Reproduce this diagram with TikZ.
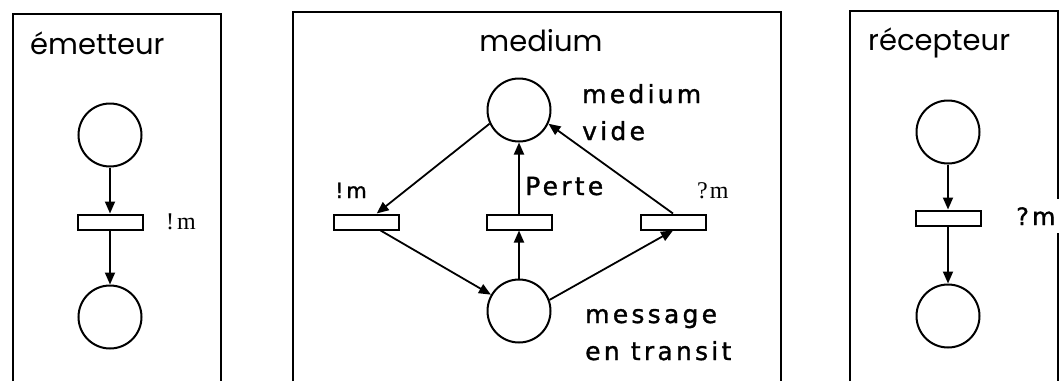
\documentclass[tikz,border=0pt]{standalone}
\usepackage{fontspec}
\usetikzlibrary{arrows.meta}
\newfontfamily\titlefont{Poppins}
\newfontfamily\lblfont[LetterSpace=13,FakeBold=1.2]{DejaVu Sans}
\newfontfamily\seriffont{Liberation Serif}
\begin{document}
\begin{tikzpicture}[x=1pt,y=-1pt,
  place/.style={circle, draw, line width=2pt, minimum size=63pt, inner sep=0pt},
  trans/.style={rectangle, draw, line width=2pt, minimum width=65pt, minimum height=15pt, inner sep=0pt},
  arc/.style={line width=1.8pt, -{Triangle[length=12pt,width=10pt]}},
  frame/.style={line width=2.4pt},
  title/.style={font=\titlefont\fontsize{29}{34}\selectfont, inner sep=0pt},
  lbl/.style={font=\lblfont\fontsize{25}{37}\selectfont, inner sep=0pt, align=left},
  slbl/.style={font=\seriffont\fontsize{24}{26}\selectfont, inner sep=0pt}]
\useasboundingbox (0,0) rectangle (1061,381);
% frames
\draw[frame] (13,381) -- (13,14) -- (221,14) -- (221,381);
\draw[frame] (293,381) -- (293,12) -- (781,12) -- (781,381);
\draw[frame] (850,381) -- (850,11) -- (1058,11) -- (1058,381);
% titles
\node[title, anchor=base west] (t1) at (30,54) {émetteur};
\node[title, anchor=base] (t2) at (541,51) {medium};
\node[title, anchor=base west] (t3) at (868,50) {récepteur};
% emetteur
\node[place] (ep1) at (110,135) {};
\node[trans] (et) at (110,222) {};
\node[place] (ep2) at (110,317) {};
\draw[arc] (ep1) -- (et);
\draw[arc] (et) -- (ep2);
\node[slbl, anchor=base west] (etl) at (166,229) {!\kern3pt m};
% medium
\node[place] (mv) at (519,110) {};
\node[trans] (lt) at (366,222) {};
\node[trans] (pt) at (519,222) {};
\node[trans] (rt) at (673,222) {};
\node[place] (mt) at (519,311) {};
\draw[arc] (mv.205) -- (lt);
\draw[arc] (lt) -- (mt);
\draw[arc] (mt) -- (pt);
\draw[arc] (pt) -- (mv);
\draw[arc] (mt.20) -- (rt.south);
\draw[arc] (rt.north) -- (mv.-25);
\node[lbl, anchor=base west, font=\lblfont\fontsize{21}{22}\selectfont] (ltl) at (335,198) {!m};
\node[lbl, anchor=base west] (ptl) at (525,195) {Perte};
\node[slbl, anchor=base west] (rtl) at (697,198) {?\kern2pt m};
\node[lbl, anchor=base west] (mvl) at (582,140) {medium\\vide};
\node[lbl, anchor=base west] (mtl) at (585,360) {message\\en transit};
% recepteur
\node[place] (rp1) at (948,132) {};
\node[trans] (rtr) at (948,218) {};
\node[place] (rp2) at (948,316) {};
\draw[arc] (rp1) -- (rtr);
\draw[arc] (rtr) -- (rp2);
\node[lbl, anchor=base west, font=\lblfont\fontsize{24}{26}\selectfont, fill=white, inner ysep=8pt, inner xsep=10pt] (rtrl) at (1006,225) {?m};
\end{tikzpicture}
\end{document}
